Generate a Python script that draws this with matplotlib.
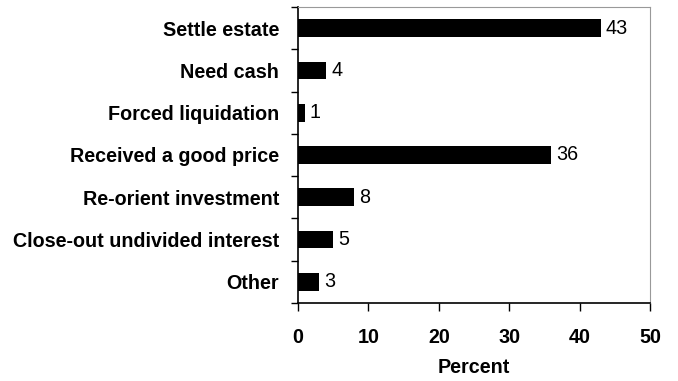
import matplotlib
matplotlib.use("Agg")
import matplotlib.pyplot as plt
import numpy as np

plt.rcParams["font.family"] = ["Liberation Sans", "DejaVu Sans"]

categories = [
    "Settle estate",
    "Need cash",
    "Forced liquidation",
    "Received a good price",
    "Re-orient investment",
    "Close-out undivided interest",
    "Other",
]
percent = [43, 4, 1, 36, 8, 5, 3]

FS = 14.2

fig = plt.figure(figsize=(6.78, 3.81), dpi=100)
ax = fig.add_axes([0.4395, 0.2047, 0.5192, 0.777])

y = np.arange(len(categories))
ax.barh(y, percent, height=0.42, color="black")
for yi, v in zip(y, percent):
    ax.text(v + 0.7, yi, str(v), va="center", ha="left", fontsize=FS)

ax.set_xlim(0, 50)
ax.set_ylim(len(categories) - 0.5, -0.5)
ax.set_xticks(range(0, 51, 10))
ax.set_xticklabels([str(t) for t in range(0, 51, 10)], fontweight="bold", fontsize=FS)

# category labels sit between the tick marks
ax.set_yticks(np.arange(-0.5, len(categories), 1.0))
ax.set_yticklabels([])
ax.set_yticks(y, minor=True)
ax.set_yticklabels(categories, minor=True, fontweight="bold", fontsize=FS)
ax.tick_params(axis="y", which="minor", length=0, pad=13.5)
ax.tick_params(axis="y", which="major", length=5, width=1, direction="out")
ax.tick_params(axis="x", length=6, width=1, direction="out", pad=12)

ax.set_xlabel("Percent", fontweight="bold", fontsize=FS, labelpad=8)

for side in ("top", "right"):
    ax.spines[side].set_color("#999999")
for side in ("left", "bottom"):
    ax.spines[side].set_color("black")
    ax.spines[side].set_linewidth(1.2)

fig.savefig("out.png", dpi=100)
